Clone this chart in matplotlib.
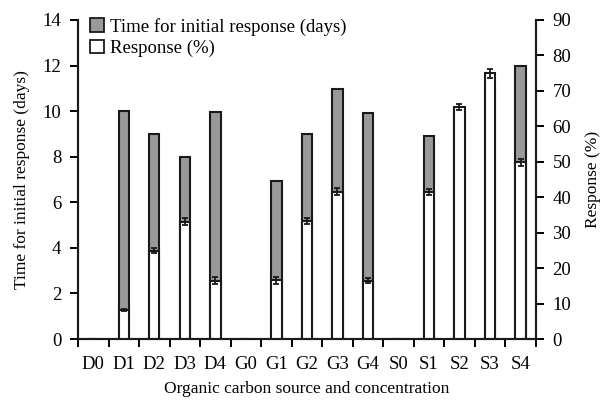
import numpy as np
import matplotlib.pyplot as plt
from matplotlib.patches import Patch

plt.rcParams['font.family'] = ['Liberation Serif', 'DejaVu Serif']

categories = ['D0', 'D1', 'D2', 'D3', 'D4', 'G0', 'G1', 'G2', 'G3', 'G4',
              'S0', 'S1', 'S2', 'S3', 'S4']
time_days = [0, 10.0, 9.0, 8.0, 9.95, 0, 6.93, 9.0, 10.95, 9.92,
             0, 8.93, 10.0, 11.0, 12.0]
response_pct = [0, 8.2, 24.9, 33.1, 16.5, 0, 16.6, 33.3, 41.6, 16.5,
                0, 41.4, 65.4, 75.0, 49.8]
response_err = [0, 0.4, 0.7, 1.0, 1.0, 0, 1.0, 0.8, 1.0, 0.8,
                0, 0.8, 0.8, 1.3, 1.0]

x = np.arange(len(categories))
w = 0.34
fs = 13.5

fig = plt.figure(figsize=(6, 4), dpi=100)
ax1 = fig.add_axes([0.13, 0.1525, 0.763, 0.7975])
ax2 = ax1.twinx()

ax1.bar(x, time_days, width=w, color='#999999', edgecolor='#1a1a1a', linewidth=1.5)

# zero-height bars are hidden
rx = [xi for xi, v in zip(x, response_pct) if v > 0]
rv = [v for v in response_pct if v > 0]
re = [e for e, v in zip(response_err, response_pct) if v > 0]
ax2.bar(rx, rv, width=w, color='white', edgecolor='#1a1a1a', linewidth=1.5,
        yerr=re, error_kw=dict(ecolor='#1a1a1a', elinewidth=1.3, capsize=2.5, capthick=1.3))

ax1.set_ylim(0, 14)
ax1.set_yticks(np.arange(0, 15, 2))
ax2.set_ylim(0, 90)
ax2.set_yticks(np.arange(0, 91, 10))
ax1.set_xlim(-0.5, len(categories) - 0.5)

ax1.set_xticks(x)
ax1.set_xticklabels(categories)
ax1.set_xticks(np.arange(-0.5, len(categories), 1), minor=True)
ax1.tick_params(axis='x', which='major', length=0, pad=12, labelsize=fs)
ax1.tick_params(axis='x', which='minor', length=6, width=1.4, direction='out')
ax1.tick_params(axis='y', length=6, width=1.4, direction='out', labelsize=fs, pad=6)
ax2.tick_params(axis='y', length=6, width=1.4, direction='out', labelsize=fs, pad=6)

for ax in (ax1, ax2):
    ax.spines['top'].set_visible(False)
    for s in ('left', 'right', 'bottom'):
        ax.spines[s].set_linewidth(1.5)
        ax.spines[s].set_color('#1a1a1a')

ax1.set_xlabel('Organic carbon source and concentration', fontsize=12.5, labelpad=6)
ax1.set_ylabel('Time for initial response (days)', fontsize=12.5, labelpad=9)
ax2.set_ylabel('Response (%)', fontsize=12.5, labelpad=10)

handles = [Patch(facecolor='#999999', edgecolor='#1a1a1a', linewidth=1.3,
                 label='Time for initial response (days)'),
           Patch(facecolor='white', edgecolor='#1a1a1a', linewidth=1.3,
                 label='Response (%)')]
ax2.legend(handles=handles, loc='upper left', bbox_to_anchor=(0.01, 1.03),
           frameon=False, fontsize=fs, handlelength=0.75, handleheight=0.75,
           handletextpad=0.3, labelspacing=0.2, borderaxespad=0)

fig.savefig('out.png', dpi=100)
